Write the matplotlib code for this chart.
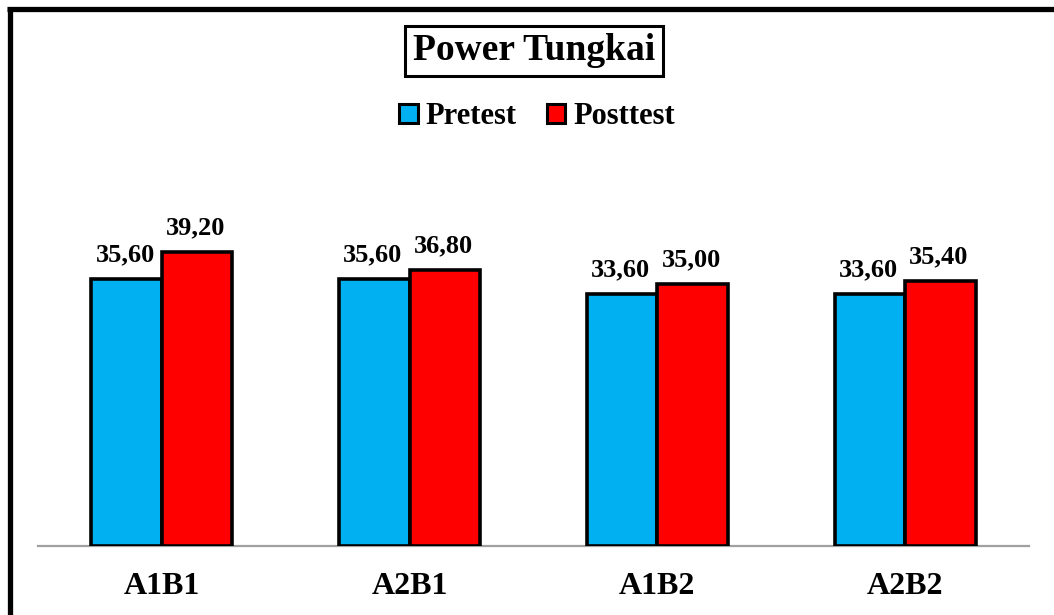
import matplotlib
matplotlib.use("Agg")
import matplotlib.pyplot as plt
from matplotlib.lines import Line2D
from matplotlib.patches import Rectangle
import numpy as np

categories = ["A1B1", "A2B1", "A1B2", "A2B2"]
pretest = [35.60, 35.60, 33.60, 33.60]
posttest = [39.20, 36.80, 35.00, 35.40]
series_names = ["Pretest", "Posttest"]
title = "Power Tungkai"

plt.rcParams['font.family'] = ['Liberation Serif', 'DejaVu Serif']
plt.rcParams['font.weight'] = 'bold'

W, H = 1054, 615
fig = plt.figure(figsize=(W / 100, H / 100), dpi=100)

ymax = 45
ax = fig.add_axes([38 / W, (H - 546) / H, 991 / W, (ymax * 7.5) / H])
x = np.arange(len(categories))
bw = 0.285
c_pre = "#00B0F0"
c_post = "#FF0000"
b1 = ax.bar(x - bw / 2, pretest, bw, color=c_pre, edgecolor="black", linewidth=2.6, zorder=3)
b2 = ax.bar(x + bw / 2, posttest, bw, color=c_post, edgecolor="black", linewidth=2.6, zorder=3)

def fmt(v):
    return f"{v:.2f}".replace(".", ",")

for bars, vals in ((b1, pretest), (b2, posttest)):
    for rect, v in zip(bars, vals):
        ax.annotate(fmt(v), (rect.get_x() + rect.get_width() / 2, v),
                    xytext=(-1, 9), textcoords="offset points",
                    ha="center", va="bottom", fontsize=19, fontweight="bold")

ax.set_xlim(-0.5, 3.5)
ax.set_ylim(0, ymax)
for s in ("top", "right", "left"):
    ax.spines[s].set_visible(False)
ax.spines["bottom"].set_color("#A0A0A0")
ax.spines["bottom"].set_linewidth(1.6)
ax.spines["bottom"].set_zorder(2)
ax.set_yticks([])
ax.set_xticks(x)
ax.set_xticklabels(categories, fontsize=23, fontweight="bold")
ax.tick_params(axis="x", length=0, pad=19)

fig.text(534 / W, 1 - 51 / H, title, ha="center", va="center", fontsize=27,
         fontweight="bold",
         bbox=dict(boxstyle="square,pad=0.2", facecolor="white", edgecolor="black", linewidth=2.2))

handles = [Rectangle((0, 0), 1, 1, facecolor=c_pre, edgecolor="black", linewidth=2.2),
           Rectangle((0, 0), 1, 1, facecolor=c_post, edgecolor="black", linewidth=2.2)]
fig.legend(handles, series_names, loc="center", bbox_to_anchor=(537 / W, 1 - 117 / H),
           ncol=2, frameon=False, prop=dict(size=22, weight="bold"),
           handlelength=0.6, handleheight=0.6, handletextpad=0.25, columnspacing=1.0)

fig.add_artist(Line2D([7 / W, 1], [1 - 9 / H, 1 - 9 / H], transform=fig.transFigure,
                      color="black", linewidth=3.8, solid_capstyle="butt"))
fig.add_artist(Line2D([9.5 / W, 9.5 / W], [0, 1 - 7 / H], transform=fig.transFigure,
                      color="black", linewidth=3.8, solid_capstyle="butt"))

fig.savefig("out.png", dpi=100, facecolor="white")
